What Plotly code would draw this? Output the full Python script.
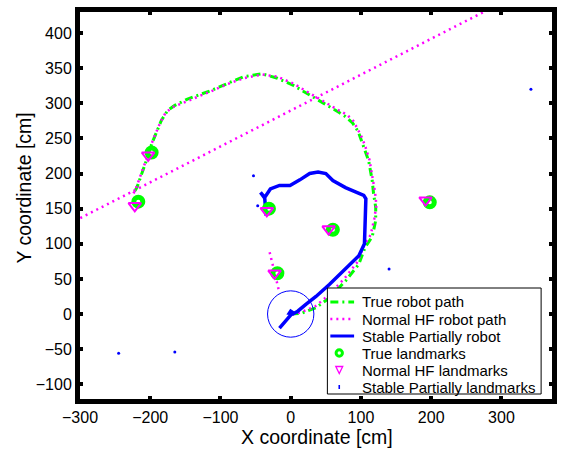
import plotly.graph_objects as go

# ---------------- data ----------------
true_path_x = [0, 15, 36, 55, 78, 97, 106, 116, 121, 121, 118, 116, 111, 106, 101, 96, 88, 78, 69, 47, 24, 3,
               -20, -41, -67, -90, -114, -147, -165, -175, -184, -191, -198, -205, -212, -219, -224]
true_path_y = [0, 1, 9, 23, 47, 71, 95, 110, 133, 152, 171, 190, 218, 233, 248, 260, 272, 281, 287, 300, 313, 326,
               336, 342, 338, 328, 318, 306, 297, 290, 276, 259, 242, 220, 200, 180, 172]

hf_path_x = [2, 16, 35, 53, 76, 95, 104, 114, 119, 122, 120, 117, 112, 107, 102, 96, 89, 80, 70, 48, 25, 4,
             -19, -40, -66, -91, -116, -148, -167, -178, -186, -193, -200, -207, -214, -221, -226,
             None, -330, 300,
             None, -30, -16]
hf_path_y = [-1, 3, 11, 26, 50, 74, 97, 113, 136, 155, 174, 193, 220, 236, 250, 262, 275, 284, 289, 302, 315, 328,
             338, 341, 336, 327, 316, 303, 295, 287, 272, 255, 238, 216, 196, 177, 168,
             None, 121, 443,
             None, 88, 30]

sp_path_x = [-16, -8, 0, 3, 0, -2, 3, 10, 22, 36, 55, 78, 97, 105, 106, 107, 107, 104, 97, 78, 60, 50, 39, 27,
             13, -1, -16, -29, -37, -43, -37, -36, -35]
sp_path_y = [-20, -11, -2, 2, 4, 1, 0, 4, 14, 25, 42, 64, 83, 100, 128, 157, 164, 169, 172, 180, 190, 200, 202,
             200, 191, 183, 183, 178, 166, 173, 165, 152, 140]

true_lm_x = [-198, -217, -31, 60, -19, 198]
true_lm_y = [230, 160, 150, 120, 58, 159]

hf_lm_x = [-203, -222, -34, 54, -23, 192]
hf_lm_y = [226, 154, 147, 121, 58, 162]

sp_lm_x = [-53, -47, 140, 342, -245, -165]
sp_lm_y = [197, 154, 64, 320, -56, -54]

circle_center = (0, 0)
circle_radius = 33

x_range = [-300, 372]
y_range = [-121, 430]
x_ticks = [-300, -200, -100, 0, 100, 200, 300]
y_ticks = [-100, -50, 0, 50, 100, 150, 200, 250, 300, 350, 400]

legend_labels = ["True robot path", "Normal HF robot path", "Stable Partially robot",
                 "True landmarks", "Normal HF landmarks", "Stable Partially landmarks"]

# ---------------- styles ----------------
FONT = "Liberation Sans, Arial, Helvetica, sans-serif"
GREEN, MAGENTA, BLUE = "#00FF00", "#FF00FF", "#0000FF"
GREEN_DASH = "8px,4px,2px,4px"
MAGENTA_DASH = "2px,4px"

W, H = 561, 449
ML, MR, MT, MB = 80, 4, 12, 50
PW, PH = W - ML - MR, H - MT - MB


def px(xp):
    return (xp - ML) / PW


def py(yp):
    return (H - MB - yp) / PH


fig = go.Figure()

fig.add_trace(go.Scatter(x=true_path_x, y=true_path_y, mode="lines", name=legend_labels[0],
                         showlegend=False, line=dict(color=GREEN, width=3, dash=GREEN_DASH)))
fig.add_trace(go.Scatter(x=hf_path_x, y=hf_path_y, mode="lines", name=legend_labels[1],
                         showlegend=False, connectgaps=False,
                         line=dict(color=MAGENTA, width=2.5, dash=MAGENTA_DASH)))
fig.add_trace(go.Scatter(x=sp_path_x, y=sp_path_y, mode="lines", name=legend_labels[2],
                         showlegend=False, line=dict(color=BLUE, width=3.5)))
fig.add_trace(go.Scatter(x=true_lm_x, y=true_lm_y, mode="markers", name=legend_labels[3],
                         showlegend=False,
                         marker=dict(symbol="circle-open", size=9, color=GREEN,
                                     line=dict(width=5, color=GREEN))))
fig.add_trace(go.Scatter(x=hf_lm_x, y=hf_lm_y, mode="markers", name=legend_labels[4],
                         showlegend=False,
                         marker=dict(symbol="triangle-down-open", size=11, color=MAGENTA,
                                     line=dict(width=2, color=MAGENTA))))
fig.add_trace(go.Scatter(x=sp_lm_x, y=sp_lm_y, mode="markers", name=legend_labels[5],
                         showlegend=False,
                         marker=dict(symbol="circle", size=3, color=BLUE)))

cx, cy = circle_center
fig.add_shape(type="circle", xref="x", yref="y",
              x0=cx - circle_radius, x1=cx + circle_radius,
              y0=cy - circle_radius, y1=cy + circle_radius,
              line=dict(color=BLUE, width=1))

# ---------------- legend (drawn box) ----------------
box_l, box_r, box_t, box_b = 330, 546, 288, 394
fig.add_shape(type="rect", xref="paper", yref="paper", layer="above",
              x0=px(box_l), x1=px(box_r), y0=py(box_b), y1=py(box_t),
              fillcolor="white", line=dict(color="black", width=1))
row_y = [302, 319, 336, 353, 370, 387]
sx0, sx1, mx = 333, 357, 342
# line samples
fig.add_shape(type="line", xref="paper", yref="paper", layer="above",
              x0=px(sx0), x1=px(sx1), y0=py(row_y[0]), y1=py(row_y[0]),
              line=dict(color=GREEN, width=3, dash=GREEN_DASH))
fig.add_shape(type="line", xref="paper", yref="paper", layer="above",
              x0=px(sx0), x1=px(sx1), y0=py(row_y[1]), y1=py(row_y[1]),
              line=dict(color=MAGENTA, width=2.5, dash=MAGENTA_DASH))
fig.add_shape(type="line", xref="paper", yref="paper", layer="above",
              x0=px(sx0), x1=px(sx1), y0=py(row_y[2]), y1=py(row_y[2]),
              line=dict(color=BLUE, width=3))
# marker samples
r = 3.2
fig.add_shape(type="circle", xref="paper", yref="paper", layer="above",
              x0=px(mx - r), x1=px(mx + r), y0=py(row_y[3] + r), y1=py(row_y[3] - r),
              line=dict(color=GREEN, width=3))
tw, th = 3.5, 3.5
tri = "M {:.5f},{:.5f} L {:.5f},{:.5f} L {:.5f},{:.5f} Z".format(
    px(mx - tw), py(row_y[4] - th), px(mx + tw), py(row_y[4] - th), px(mx), py(row_y[4] + th))
fig.add_shape(type="path", xref="paper", yref="paper", layer="above", path=tri,
              line=dict(color=MAGENTA, width=1.3))
fig.add_shape(type="rect", xref="paper", yref="paper", layer="above",
              x0=px(mx - 0.8), x1=px(mx + 0.8), y0=py(row_y[5] + 2), y1=py(row_y[5] - 2),
              fillcolor=BLUE, line=dict(color=BLUE, width=0))
for lab, ry in zip(legend_labels, row_y):
    fig.add_annotation(text=lab, xref="paper", yref="paper", x=px(363), y=py(ry),
                       xanchor="left", yanchor="middle", showarrow=False,
                       font=dict(family=FONT, size=15, color="black"))

# ---------------- axes ----------------
axis_common = dict(showline=True, linewidth=5, linecolor="black", mirror="ticks",
                   ticks="inside", ticklen=3, tickwidth=4, tickcolor="black",
                   showgrid=False, zeroline=False,
                   tickfont=dict(family=FONT, size=16, color="black"))

fig.update_xaxes(range=x_range, tickvals=x_ticks, **axis_common)
fig.update_yaxes(range=y_range, tickvals=y_ticks, **axis_common)

fig.add_annotation(text="X coordinate [cm]", xref="paper", yref="paper",
                   x=px(320), y=py(437), xanchor="center", yanchor="middle", showarrow=False,
                   font=dict(family=FONT, size=19.5, color="black"))
fig.add_annotation(text="Y coordinate [cm]", xref="paper", yref="paper",
                   x=px(23), y=py(188), xanchor="center", yanchor="middle", showarrow=False,
                   textangle=-90, font=dict(family=FONT, size=19.5, color="black"))

fig.update_layout(
    width=W, height=H,
    margin=dict(l=ML, r=MR, t=MT, b=MB),
    paper_bgcolor="white", plot_bgcolor="white",
    showlegend=False,
)

fig.write_html("out.html")
